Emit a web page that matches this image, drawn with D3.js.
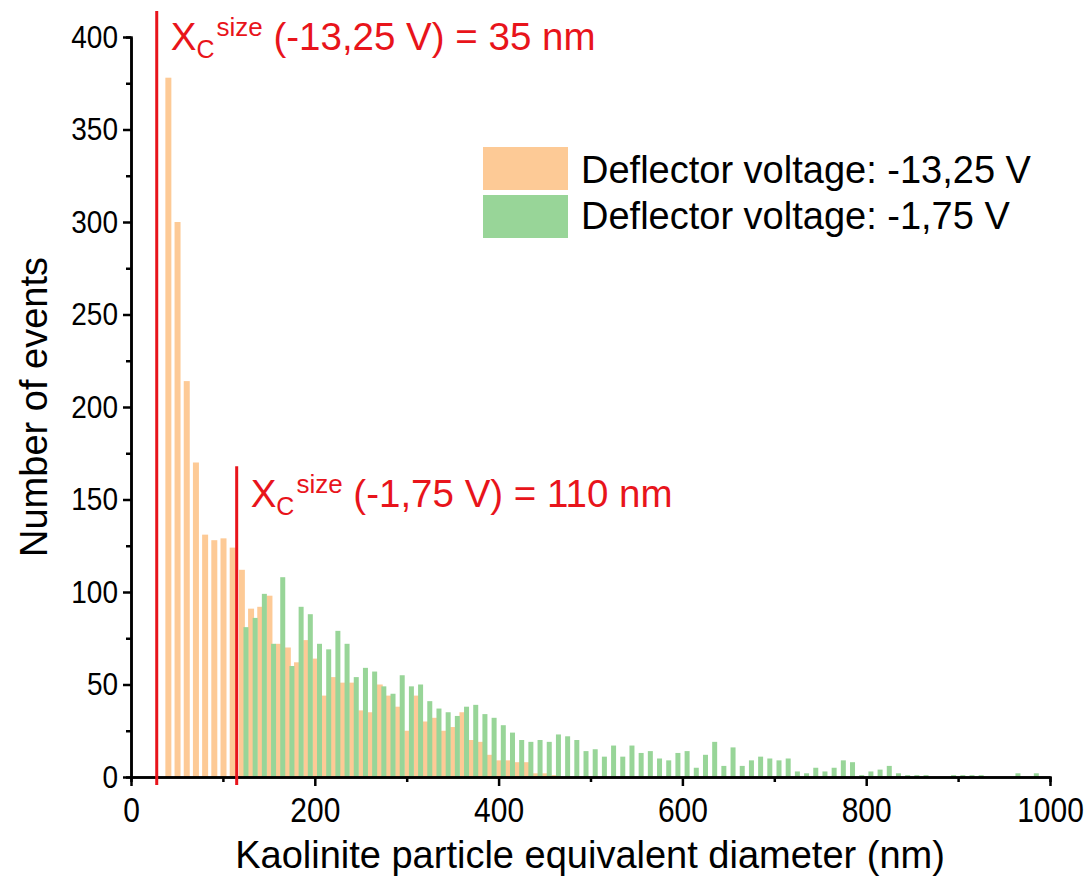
<!DOCTYPE html>
<html>
<head>
<meta charset="utf-8">
<script src="https://cdn.jsdelivr.net/npm/d3@7"></script>
<style>
  body { margin: 0; background: #fff; }
  svg text { font-family: "Liberation Sans", Arial, sans-serif; }
</style>
</head>
<body>
<div id="chart"></div>
<script>
// bin centres (nm) and counts
var orangeBins = [40, 50, 60, 70, 80, 90, 100, 110, 120, 130, 140, 150, 160, 170, 180, 190, 200, 210, 220, 230,
    240, 250, 260, 270, 280, 290, 300, 310, 320, 330, 340, 350, 360, 370, 380, 390, 400, 410, 420, 430,
    440, 450, 460];
var orangeCounts = [378, 300, 214, 170, 131, 128, 129, 124, 112, 91, 92, 98, 72, 70, 62, 74, 64, 44, 54, 51,
    51, 36, 35, 50, 44, 38, 25, 44, 30, 32, 25, 27, 35, 20, 19, 12, 9, 9, 8, 8,
    2, 2, 1];

var greenBins = [120, 130, 140, 150, 160, 170, 180, 190, 200, 210,
    220, 230, 240, 250, 260, 270, 280, 290, 300, 310,
    320, 330, 340, 350, 360, 370, 380, 390, 400, 410,
    420, 430, 440, 450, 460, 470, 480, 490, 500, 510,
    520, 530, 540, 550, 560, 570, 580, 590, 600, 610,
    620, 630, 640, 650, 660, 670, 680, 690, 700, 710,
    720, 730, 740, 750, 760, 770, 780, 790, 800, 810,
    820, 830, 840, 850, 860, 870, 880, 890, 900, 910,
    920, 930, 940, 950, 960, 970, 980, 990];
var greenCounts = [81, 86, 99, 72, 108, 60, 92, 88, 72, 69,
    79, 72, 54, 59, 57, 49, 45, 55, 49, 50,
    41, 37, 35, 33, 38, 39, 34, 32, 28, 24,
    20, 19, 20, 19, 23, 22, 20, 14, 15, 11,
    17, 11, 17, 13, 14, 10, 9, 13, 14, 5,
    12, 19, 6, 16, 6, 9, 11, 10, 9, 10,
    3, 2, 5, 3, 5, 9, 8, 1, 3, 4,
    6, 2, 1, 1, 1, 0, 0, 1, 1, 1,
    1, 0, 0, 0, 2, 0, 2, 0];

var seriesNames = ["Deflector voltage: -13,25 V", "Deflector voltage: -1,75 V"];

// cut-off lines: position (nm), top of line (events), label text
var cutX = [28, 115];
var cutTop = [414, 168];
var cutLabelY = [393, 146];
var cutLabelRest = [" (-13,25 V) = 35 nm", " (-1,75 V) = 110 nm"];

var xMajor = [0, 200, 400, 600, 800, 1000];
var xMinor = [100, 300, 500, 700, 900];
var yMajor = [0, 50, 100, 150, 200, 250, 300, 350, 400];
var yMinor = [25, 75, 125, 175, 225, 275, 325, 375];

var orangeColor = "#FDCA96",
    greenColor = "#98D598",
    redColor = "#E8141B";

var font = '"Liberation Sans", Arial, sans-serif';

var width = 1087, height = 894;

var svg = d3.select("#chart")
    .append("svg")
    .attr("width", width)
    .attr("height", height);

var x = d3.scaleLinear().domain([0, 1000]).range([131, 1050]);
var y = d3.scaleLinear().domain([0, 400]).range([777, 37]);

// bars, orange first, green on top
svg.append("g")
    .selectAll("rect")
    .data(orangeBins)
    .enter()
    .append("rect")
    .attr("x", function (d) { return x(d) - 2.4; })
    .attr("width", 6)
    .attr("y", function (d, i) { return y(orangeCounts[i]); })
    .attr("height", function (d, i) { return y(0) - y(orangeCounts[i]); })
    .attr("fill", orangeColor);

svg.append("g")
    .selectAll("rect")
    .data(greenBins)
    .enter()
    .append("rect")
    .attr("x", function (d) { return x(d) + 2.2; })
    .attr("width", 5)
    .attr("y", function (d, i) { return y(greenCounts[i]); })
    .attr("height", function (d, i) { return y(0) - y(greenCounts[i]); })
    .attr("fill", greenColor);

// axes (tick labels a bit taller than the font, like the original)
function styleAxis(size) {
    return function (g) {
        g.attr("font-family", font).attr("font-size", size);
        g.selectAll("path, line").attr("stroke", "#000").attr("stroke-width", 2.5);
        g.selectAll("text").attr("fill", "#000")
            .attr("transform", "scale(1,1.15)")
            .style("font-family", font).style("font-size", size + "px");
    };
}

svg.append("g")
    .attr("transform", "translate(0," + y(0) + ")")
    .call(d3.axisBottom(x).tickValues(xMinor).tickSize(5).tickFormat(""))
    .call(styleAxis(30));
svg.append("g")
    .attr("transform", "translate(0," + y(0) + ")")
    .call(d3.axisBottom(x).tickValues(xMajor).tickSize(9).tickSizeOuter(0)
        .tickPadding(9).tickFormat(d3.format("d")))
    .call(styleAxis(30));

svg.append("g")
    .attr("transform", "translate(" + x(0) + ",0)")
    .call(d3.axisLeft(y).tickValues(yMinor).tickSize(5).tickFormat(""))
    .call(styleAxis(28));
svg.append("g")
    .attr("transform", "translate(" + x(0) + ",0)")
    .call(d3.axisLeft(y).tickValues(yMajor).tickSize(8).tickSizeOuter(0)
        .tickPadding(5).tickFormat(d3.format("d")))
    .call(styleAxis(28));

// axis titles
svg.append("text")
    .attr("x", 590)
    .attr("y", 868)
    .attr("text-anchor", "middle")
    .style("font-size", "38px")
    .text("Kaolinite particle equivalent diameter (nm)");

svg.append("text")
    .attr("transform", "translate(47," + y(200) + ") rotate(-90)")
    .attr("text-anchor", "middle")
    .style("font-size", "38px")
    .text("Number of events");

// cut-off lines and labels
cutX.forEach(function (cx, i) {
    svg.append("line")
        .attr("x1", x(cx)).attr("x2", x(cx))
        .attr("y1", y(cutTop[i])).attr("y2", y(0) + 8)
        .attr("stroke", redColor)
        .attr("stroke-width", 3);

    var t = svg.append("text")
        .attr("x", x(cx) + 14)
        .attr("y", y(cutLabelY[i]))
        .attr("fill", redColor)
        .style("font-size", "38.5px");
    t.append("tspan").text("X");
    t.append("tspan").attr("dy", 8).style("font-size", "25px").text("C");
    t.append("tspan").attr("dx", 2).attr("dy", -22).style("font-size", "26px").text("size");
    t.append("tspan").attr("dy", 14).text(cutLabelRest[i]);
});

// legend
var legend = svg.append("g");
[orangeColor, greenColor].forEach(function (c, i) {
    legend.append("rect")
        .attr("x", 483)
        .attr("y", 147 + i * 48)
        .attr("width", 85)
        .attr("height", 43)
        .attr("fill", c);
    legend.append("text")
        .attr("x", 581)
        .attr("y", 183 + i * 46)
        .style("font-size", "38px")
        .text(seriesNames[i]);
});
</script>
</body>
</html>
